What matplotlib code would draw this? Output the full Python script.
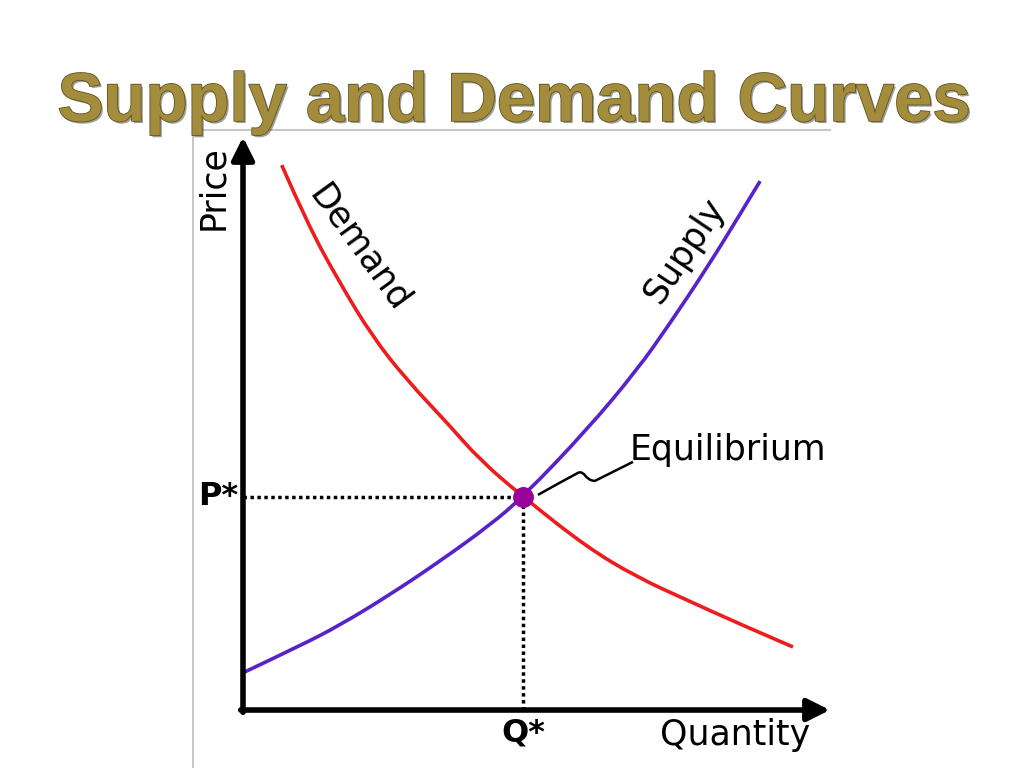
import matplotlib
matplotlib.use('Agg')
import matplotlib.pyplot as plt
import matplotlib.patheffects as pe
from matplotlib.lines import Line2D
from matplotlib.path import Path
from matplotlib.patches import PathPatch
from matplotlib.transforms import ScaledTranslation

# data (quantity 0-10, price 0-10)
demand_q = [0.66, 1.09, 1.65, 2.21, 2.79, 3.48, 4.04, 4.77, 5.86, 6.71, 7.56, 8.42, 9.37]
demand_p = [9.51, 8.50, 7.45, 6.51, 5.76, 5.01, 4.36, 3.72, 2.84, 2.32, 1.92, 1.52, 1.10]
supply_q = [0.00, 0.97, 1.65, 2.50, 3.36, 4.21, 4.77, 5.86, 6.71, 7.27, 7.90, 8.42, 8.81]
supply_p = [0.65, 1.12, 1.48, 2.01, 2.60, 3.23, 3.72, 4.89, 5.93, 6.74, 7.71, 8.57, 9.23]
q_star, p_star = 4.77, 3.72

title = 'Supply and Demand Curves'
x_label, y_label = 'Quantity', 'Price'
demand_label, supply_label = 'Demand', 'Supply'
eq_label = 'Equilibrium'

red = '#EE1C1C'
blue = '#5522CC'


def smooth(xs, ys):
    # quadratic bezier through midpoints, the read points act as control points
    pts = list(zip(xs, ys))
    verts = [pts[0]]
    codes = [Path.MOVETO]
    for i in range(1, len(pts) - 1):
        mid = ((pts[i][0] + pts[i + 1][0]) / 2, (pts[i][1] + pts[i + 1][1]) / 2)
        if i == len(pts) - 2:
            mid = pts[-1]
        verts += [pts[i], mid]
        codes += [Path.CURVE3, Path.CURVE3]
    return Path(verts, codes)


fig = plt.figure(figsize=(10.24, 7.68), dpi=100, facecolor='white')

# slide frame lines
fig.add_artist(Line2D([0.1885, 0.1885], [0.0, 0.8307], color='#c8c8c8', lw=1.5))
fig.add_artist(Line2D([0.1885, 0.8105], [0.8307, 0.8307], color='#c8c8c8', lw=1.5))

fig.text(0.502, 0.8425, title, ha='center', va='baseline', fontsize=49.5,
         family='Liberation Sans', weight='bold', color='#A38D3C',
         path_effects=[pe.SimplePatchShadow(offset=(1.5, -1.5), shadow_rgbFace='#444444', alpha=0.5),
                       pe.Stroke(linewidth=1.2, foreground='#5e5222'), pe.Normal()])

ax = fig.add_axes([0.2373, 0.0755, 0.5732, 0.7461])
ax.set_xlim(0, 10)
ax.set_ylim(0, 10)
for s in ax.spines.values():
    s.set_visible(False)
ax.set_xticks([])
ax.set_yticks([])
ax.patch.set_alpha(0)

# axis arrows
arrow = dict(arrowstyle='-|>', lw=4, color='black', mutation_scale=34,
             shrinkA=0, shrinkB=0)
ax.annotate('', xy=(1.0, 0), xytext=(-0.004, 0), xycoords='axes fraction', arrowprops=arrow)
ax.annotate('', xy=(0, 1.0), xytext=(0, -0.004), xycoords='axes fraction', arrowprops=arrow)

ax.add_patch(PathPatch(smooth(demand_q, demand_p), fill=False, edgecolor=red, lw=2.6,
                       transform=ax.transData))
ax.add_patch(PathPatch(smooth(supply_q, supply_p), fill=False, edgecolor=blue, lw=2.6,
                       transform=ax.transData))

ax.plot([0, q_star], [p_star, p_star], color='black', lw=2.5, ls=(0, (1, 1)))
ax.plot([q_star, q_star], [0, p_star], color='black', lw=2.5, ls=(0, (1, 1)))
ax.plot(q_star, p_star, 'o', color='#990099', ms=14, zorder=5)

# squiggly leader to the Equilibrium label (inches from the point)
verts = [(0.15, 0.02), (0.40, 0.16), (0.55, 0.24), (0.62, 0.27), (0.62, 0.16), (0.72, 0.16), (1.10, 0.35)]
codes = [Path.MOVETO, Path.CURVE3, Path.CURVE3, Path.CURVE4, Path.CURVE4, Path.CURVE4, Path.LINETO]
trans = fig.dpi_scale_trans + ScaledTranslation(q_star, p_star, ax.transData)
ax.add_patch(PathPatch(Path(verts, codes), transform=trans, fill=False, lw=1.8,
                       edgecolor='black', clip_on=False))

fs = 25
ax.text(6.59, 4.54, eq_label, fontsize=fs, ha='left', va='center')
ax.text(8.38, -0.44, x_label, fontsize=fs, ha='center', va='center', clip_on=False)
ax.text(-0.51, 9.11, y_label, fontsize=fs, ha='center', va='center', rotation=90)
ax.text(1.99, 8.06, demand_label, fontsize=fs, ha='center', va='center', rotation=-54,
        rotation_mode='anchor')
ax.text(7.53, 8.03, supply_label, fontsize=fs, ha='center', va='center', rotation=56,
        rotation_mode='anchor')
ax.text(-0.43, p_star, 'P*', fontsize=23, weight='bold', ha='center', va='center')
ax.text(q_star, -0.40, 'Q*', fontsize=23, weight='bold', ha='center', va='center')

fig.savefig('out.png', dpi=100, facecolor='white')
